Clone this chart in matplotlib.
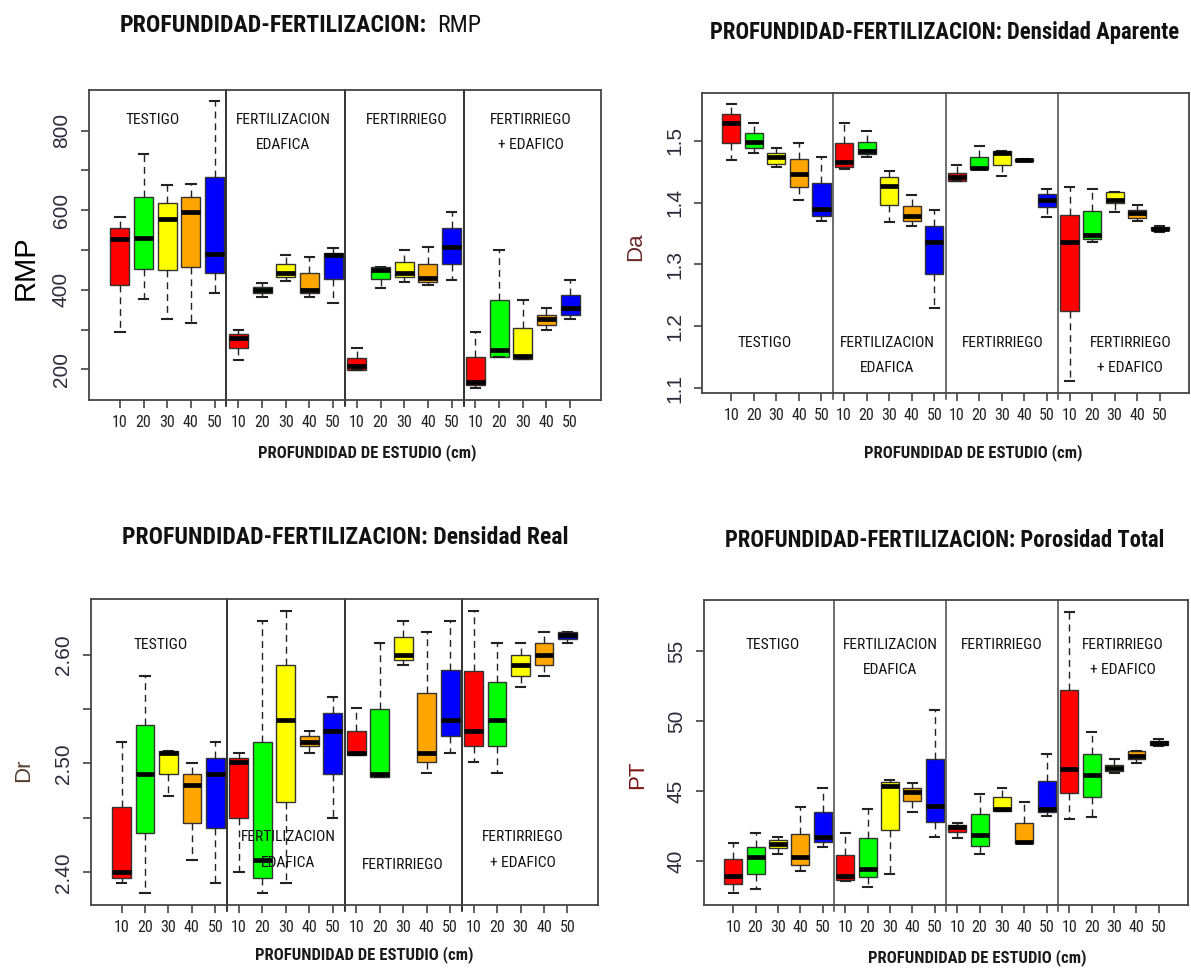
import matplotlib
matplotlib.use("Agg")
import matplotlib.pyplot as plt
import matplotlib.font_manager as fm
from matplotlib.font_manager import FontProperties

plt.rcParams['font.family'] = ['Liberation Sans', 'DejaVu Sans']

# ---------------- data ----------------
depth_labels = ['10', '20', '30', '40', '50']
group_line1 = ['TESTIGO', 'FERTILIZACION', 'FERTIRRIEGO', 'FERTIRRIEGO']
group_line2 = ['', 'EDAFICA', '', '+ EDAFICO']
box_colors = ['#FF0000', '#00FF00', '#FFFF00', '#FFA500', '#0000FF']

# RMP
rmp_lo  = [295, 378, 326, 316, 391,  223, 383, 423, 383, 366,  198, 404, 420, 412, 425,  152, 232, 227, 299, 326]
rmp_q1  = [411, 453, 449, 458, 441,  253, 391, 431, 391, 427,  198, 428, 433, 420, 466,  161, 232, 227, 311, 337]
rmp_med = [527, 529, 579, 596, 491,  278, 399, 441, 399, 487,  208, 450, 441, 429, 508,  169, 249, 234, 326, 355]
rmp_q3  = [554, 632, 619, 632, 683,  290, 408, 466, 441, 493,  229, 458, 471, 466, 554,  232, 374, 303, 337, 387]
rmp_hi  = [584, 741, 663, 667, 875,  299, 416, 487, 483, 504,  253, 458, 500, 508, 596,  295, 500, 374, 353, 425]

# Densidad aparente
da_lo  = [1.469, 1.480, 1.458, 1.404, 1.370,  1.454, 1.474, 1.368, 1.362, 1.229,  1.435, 1.454, 1.443, 1.467, 1.377,  1.111, 1.336, 1.385, 1.370, 1.353]
da_q1  = [1.497, 1.488, 1.463, 1.426, 1.378,  1.458, 1.478, 1.396, 1.370, 1.285,  1.435, 1.454, 1.461, 1.468, 1.393,  1.224, 1.341, 1.399, 1.376, 1.355]
da_med = [1.529, 1.498, 1.474, 1.446, 1.390,  1.466, 1.483, 1.427, 1.378, 1.336,  1.442, 1.456, 1.481, 1.469, 1.404,  1.336, 1.347, 1.405, 1.384, 1.358]
da_q3  = [1.544, 1.513, 1.481, 1.471, 1.432,  1.497, 1.499, 1.441, 1.395, 1.362,  1.448, 1.474, 1.484, 1.470, 1.414,  1.380, 1.386, 1.417, 1.388, 1.361]
da_hi  = [1.559, 1.529, 1.489, 1.497, 1.474,  1.529, 1.516, 1.452, 1.412, 1.388,  1.461, 1.492, 1.484, 1.471, 1.422,  1.425, 1.422, 1.417, 1.396, 1.363]

# Densidad real
dr_lo  = [2.390, 2.381, 2.470, 2.411, 2.390,  2.400, 2.381, 2.390, 2.510, 2.450,  2.508, 2.488, 2.590, 2.491, 2.510,  2.501, 2.491, 2.570, 2.580, 2.611]
dr_q1  = [2.395, 2.436, 2.490, 2.445, 2.441,  2.450, 2.395, 2.465, 2.516, 2.490,  2.508, 2.488, 2.595, 2.501, 2.525,  2.516, 2.516, 2.580, 2.590, 2.614]
dr_med = [2.400, 2.490, 2.510, 2.480, 2.490,  2.501, 2.411, 2.540, 2.520, 2.530,  2.510, 2.490, 2.600, 2.510, 2.540,  2.530, 2.540, 2.590, 2.600, 2.618]
dr_q3  = [2.460, 2.535, 2.511, 2.490, 2.505,  2.505, 2.520, 2.590, 2.525, 2.546,  2.530, 2.550, 2.616, 2.565, 2.586,  2.585, 2.575, 2.600, 2.611, 2.621]
dr_hi  = [2.520, 2.580, 2.511, 2.500, 2.520,  2.510, 2.631, 2.640, 2.530, 2.561,  2.551, 2.611, 2.631, 2.621, 2.631,  2.640, 2.611, 2.611, 2.621, 2.621]

# Porosidad total
pt_lo  = [37.69, 38.02, 40.48, 39.28, 41.03,  38.59, 38.12, 39.07, 43.53, 41.74,  41.62, 40.48, 43.60, 41.26, 43.24,  43.00, 43.12, 46.27, 46.99, 48.25]
pt_q1  = [38.33, 39.07, 40.91, 39.71, 41.38,  38.64, 38.83, 42.22, 44.29, 42.81,  42.10, 41.10, 43.60, 41.26, 43.48,  44.84, 44.60, 46.46, 47.30, 48.27]
pt_med = [38.93, 40.26, 41.22, 40.26, 41.74,  38.95, 39.40, 45.39, 44.96, 43.93,  42.46, 41.86, 43.74, 41.38, 43.74,  46.60, 46.15, 46.63, 47.53, 48.42]
pt_q3  = [40.12, 41.03, 41.50, 41.93, 43.48,  40.43, 41.62, 45.63, 45.20, 47.30,  42.60, 43.34, 44.55, 42.74, 45.72,  52.23, 47.65, 46.87, 47.84, 48.56]
pt_hi  = [41.26, 41.98, 41.74, 43.84, 45.25,  41.98, 43.72, 45.79, 45.60, 50.80,  42.69, 44.77, 45.25, 44.22, 47.68,  57.79, 49.20, 47.30, 47.89, 48.73]


# ---------------- fonts: look for a narrow / condensed face ----------------
def _is_condensed(f):
    nm = f.name.lower()
    fn = f.fname.lower()
    st = f.stretch
    if isinstance(st, str):
        st_c = 'condensed' in st or 'narrow' in st
    else:
        try:
            st_c = int(st) < 100
        except Exception:
            st_c = False
    return ('narrow' in nm or 'condensed' in nm or 'narrow' in fn or 'condensed' in fn or st_c)


def _weight(f):
    w = f.weight
    if isinstance(w, str):
        return {'normal': 400, 'regular': 400, 'bold': 700, 'light': 300,
                'medium': 500, 'semibold': 600, 'black': 900}.get(w.lower(), 400)
    return int(w)


def _pick(bold):
    prefs = ['liberation sans narrow', 'arial narrow', 'roboto condensed',
             'dejavu sans', 'noto sans', 'open sans', 'lato', 'inter']
    best = None
    for f in fm.fontManager.ttflist:
        if not _is_condensed(f):
            continue
        if f.style != 'normal':
            continue
        fn = f.fname.lower()
        if 'oblique' in fn or 'italic' in fn or 'mono' in fn or 'serif' in f.name.lower():
            continue
        w = _weight(f)
        target = 700 if bold else 400
        nm = f.name.lower()
        rank = prefs.index(nm) if nm in prefs else len(prefs)
        score = (abs(w - target), rank)
        if best is None or score < best[0]:
            best = (score, f.fname)
    return best[1] if best else None


_reg = _pick(False)
_bold = _pick(True)


def fprop(bold=False, size=10):
    path = _bold if bold else _reg
    if path:
        fp = FontProperties(fname=path, size=size)
    else:
        fp = FontProperties(family='DejaVu Sans', weight='bold' if bold else 'normal', size=size)
    return fp


# ---------------- figure ----------------
W, H = 1191, 971
fig = plt.figure(figsize=(W / 100, H / 100), dpi=100)
renderer = fig.canvas.get_renderer()


def fit_size(s, bold, target_px):
    t = fig.text(0, 0, s, fontproperties=fprop(bold, 20))
    w = t.get_window_extent(renderer).width
    t.remove()
    return 20.0 * target_px / w


tick_size = 11.5
group_size = fit_size('FERTILIZACION', False, 95)
xlab_size = fit_size('PROFUNDIDAD DE ESTUDIO (cm)', True, 218)


def ax_at(l, r, t, b):
    return fig.add_axes([l / W, 1 - b / H, (r - l) / W, (b - t) / H])


def draw_panel(ax, lo, q1, med, q3, hi, ylim, yticks, yticklabels, ylabel, ylabel_color,
               ylabel_size, ylabel_xy, label_x, label_y1, label_y2, sep_color, xlab_xy):
    stats = []
    for i in range(len(med)):
        stats.append(dict(whislo=lo[i], q1=q1[i], med=med[i], q3=q3[i], whishi=hi[i], fliers=[]))
    pos = list(range(1, len(med) + 1))
    bp = ax.bxp(stats, positions=pos, widths=0.8, capwidths=0.4, patch_artist=True,
                showfliers=False,
                boxprops=dict(edgecolor='#333333', linewidth=1.0),
                medianprops=dict(color='black', linewidth=3.4, solid_capstyle='butt'),
                whiskerprops=dict(color='#222222', linewidth=1.0, linestyle=(0, (5, 3.5))),
                capprops=dict(color='#222222', linewidth=1.5))
    for i, patch in enumerate(bp['boxes']):
        patch.set_facecolor(box_colors[i % 5])
    ax.set_xlim(-0.3, len(med) + 1.3)
    ax.set_ylim(*ylim)
    for s in (5.5, 10.5, 15.5):
        ax.axvline(s, ymin=-0.02, ymax=1, color=sep_color, linewidth=1.2, clip_on=False)
    ax.set_xticks(pos)
    ax.set_xticklabels(depth_labels * 4, fontproperties=fprop(False, tick_size), color='#222222')
    ax.set_yticks(yticks)
    ax.set_yticklabels(yticklabels, fontsize=15, color='#2b2b3a', rotation=90, va='center')
    ax.tick_params(axis='both', direction='out', length=6, width=1.2, color='#444444')
    ax.tick_params(axis='x', pad=5)
    ax.tick_params(axis='y', pad=7)
    for sp in ax.spines.values():
        sp.set_color('#444444')
        sp.set_linewidth(1.3)
    # y label placed in figure pixels
    fig.text(ylabel_xy[0] / W, 1 - ylabel_xy[1] / H, ylabel, rotation=90, ha='center',
             va='center', color=ylabel_color, fontsize=ylabel_size)
    for x, y1, y2, l1, l2 in zip(label_x, label_y1, label_y2, group_line1, group_line2):
        ax.text(x, y1, l1, ha='center', va='center', fontproperties=fprop(False, group_size),
                color='#111111')
        if l2:
            ax.text(x, y2, l2, ha='center', va='center', fontproperties=fprop(False, group_size),
                    color='#111111')
    fig.text(xlab_xy[0] / W, 1 - xlab_xy[1] / H, 'PROFUNDIDAD DE ESTUDIO (cm)',
             ha='center', va='center', fontproperties=fprop(True, xlab_size), color='#1a1a1a')


# Panel 1 - RMP
ax1 = ax_at(89, 601, 90, 400)
draw_panel(ax1, rmp_lo, rmp_q1, rmp_med, rmp_q3, rmp_hi, (123, 902),
           list(range(200, 900, 100)), ['200', '', '400', '', '600', '', '800'],
           'RMP', 'black', 21, (26, 268), [2.4, 7.9, 13.1, 18.35], [827] * 4, [764] * 4,
           '#111111', (367, 453))

# Panel 2 - Densidad Aparente
ax2 = ax_at(702, 1189, 93, 393)
draw_panel(ax2, da_lo, da_q1, da_med, da_q3, da_hi, (1.092, 1.5775),
           [1.1, 1.2, 1.3, 1.4, 1.5], ['1.1', '1.2', '1.3', '1.4', '1.5'],
           'Da', '#6b2a2a', 16, (636, 247), [2.5, 7.9, 13.05, 18.7], [1.173] * 4, [1.132] * 4,
           '#555555', (973, 453))

# Panel 3 - Densidad Real
ax3 = ax_at(91, 598, 599, 905)
draw_panel(ax3, dr_lo, dr_q1, dr_med, dr_q3, dr_hi, (2.370, 2.651),
           [2.40, 2.45, 2.50, 2.55, 2.60], ['2.40', '', '2.50', '', '2.60'],
           'Dr', '#5a4030', 16, (24, 770), [2.65, 8.1, 13.0, 18.1], [2.609, 2.432, 2.407, 2.432],
           [2.609, 2.409, 2.407, 2.409], '#111111', (364, 955))

# Panel 4 - Porosidad Total
ax4 = ax_at(704, 1188, 600, 905)
draw_panel(ax4, pt_lo, pt_q1, pt_med, pt_q3, pt_hi, (36.85, 58.67),
           [40, 45, 50, 55], ['40', '45', '50', '55'],
           'PT', '#7a1515', 16, (638, 775), [2.75, 8.0, 13.0, 18.4], [55.45] * 4, [53.66] * 4,
           '#555555', (977, 958))

# Titles
t1_bold = 'PROFUNDIDAD-FERTILIZACION:'
t_size = fit_size(t1_bold, True, 307)
fig.text(427 / W, 1 - 25 / H, t1_bold, ha='right', va='center',
         fontproperties=fprop(True, t_size), color='#111111')
fig.text(437 / W, 1 - 25 / H, 'RMP', ha='left', va='center',
         fontproperties=fprop(False, t_size), color='#111111')

titles = ['PROFUNDIDAD-FERTILIZACION: Densidad Aparente',
          'PROFUNDIDAD-FERTILIZACION: Densidad Real',
          'PROFUNDIDAD-FERTILIZACION: Porosidad Total']
title_xy = [(945, 32), (345, 538), (945, 540)]
title_w = [470, 446, 441]
for s, (x, y), w in zip(titles, title_xy, title_w):
    fig.text(x / W, 1 - y / H, s, ha='center', va='center',
             fontproperties=fprop(True, fit_size(s, True, w)), color='#111111')

fig.savefig('out.png', dpi=100)
